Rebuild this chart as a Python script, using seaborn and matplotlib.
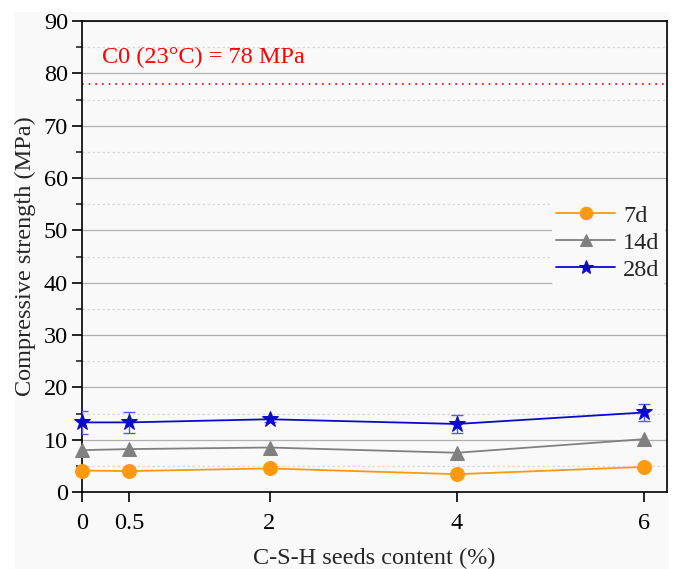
import matplotlib
matplotlib.use("Agg")
import matplotlib.pyplot as plt
from matplotlib.patches import Rectangle
from matplotlib.ticker import MultipleLocator
import seaborn as sns
import pandas as pd
import numpy as np

content = [0, 0.5, 2, 4, 6]
s7 = [4.1, 4.0, 4.5, 3.4, 4.8]
s14 = [8.0, 8.2, 8.5, 7.5, 10.1]
s28 = [13.3, 13.3, 13.9, 13.0, 15.2]
e28 = [2.2, 2.0, 0.5, 1.8, 1.6]
ref_value = 78
series_names = ["7d", "14d", "28d"]

sns.set_theme(style="white")
plt.rcParams["font.family"] = ["Liberation Serif", "DejaVu Serif"]

df = pd.DataFrame({
    "x": content * 3,
    "y": s7 + s14 + s28,
    "age": [series_names[0]] * 5 + [series_names[1]] * 5 + [series_names[2]] * 5,
})

FS = 17.5

fig = plt.figure(figsize=(6.76, 5.69), dpi=100)
fig.patch.set_facecolor("white")
fig.patches.append(Rectangle((15 / 676, 0), (669 - 15) / 676, 1 - 12 / 569,
                             transform=fig.transFigure, facecolor="#f9f9f9",
                             edgecolor="none", zorder=-10))
ax = fig.add_axes([82 / 676, 1 - 492 / 569, (667 - 82) / 676, (492 - 21) / 569])
ax.set_facecolor("#f9f9f9")

palette = {"7d": "#ff9910", "14d": "#808080", "28d": "#0a0ac8"}
markers = {"7d": "o", "14d": "^", "28d": "*"}
sizes = {"7d": 10, "14d": 10, "28d": 12}

ax.errorbar(content, s28, yerr=e28, fmt="none", ecolor="#5a5ae0", elinewidth=1,
            capsize=4, capthick=1, zorder=3)
for name in series_names:
    sub = df[df["age"] == name]
    sns.lineplot(data=sub, x="x", y="y", ax=ax, color=palette[name],
                 marker=markers[name], markersize=sizes[name],
                 markeredgecolor=palette[name], linewidth=1.3, label=name,
                 zorder=4, clip_on=False)

ax.axhline(ref_value, color="red", linestyle=(0, (1, 3)), linewidth=1.2, zorder=2)
ax.text(0.21, 83.0, "C0 (23°C) = 78 MPa", color="red", fontsize=FS, va="center")

ax.set_xlim(0, 6.24)
ax.set_ylim(0, 90)
ax.set_xticks(content)
ax.set_xticklabels(["0", "0.5", "2", "4", "6"])
ax.yaxis.set_major_locator(MultipleLocator(10))
ax.yaxis.set_minor_locator(MultipleLocator(5))
ax.grid(True, which="major", axis="y", color="#b0b0b0", linewidth=0.9, linestyle="-")
ax.grid(True, which="minor", axis="y", color="#d8d8d8", linewidth=0.9, linestyle=(0, (2, 2)))
ax.set_axisbelow(True)

for sp in ax.spines.values():
    sp.set_color("black")
    sp.set_linewidth(1.2)
    sp.set_visible(True)
ax.tick_params(axis="both", which="major", direction="out", length=7, width=1.2,
               labelsize=FS, color="black", labelcolor="black", left=True, bottom=True)
ax.tick_params(axis="y", which="minor", direction="out", length=4, width=1.2, left=True)
ax.tick_params(axis="x", which="major", pad=8)
ax.tick_params(axis="y", which="major", pad=3)

ax.set_xlabel("C-S-H seeds content (%)", fontsize=FS, labelpad=10)
ax.set_ylabel("Compressive strength (MPa)", fontsize=FS, labelpad=6)

leg = ax.legend(loc="upper right", bbox_to_anchor=(1.0, 0.625), frameon=True,
                fontsize=FS, handlelength=2.4, handletextpad=0.35,
                labelspacing=0.2, borderpad=0.2, borderaxespad=0.1, markerscale=0.9)
leg.get_frame().set_facecolor("#f9f9f9")
leg.get_frame().set_edgecolor("none")
leg.get_frame().set_alpha(1)

fig.savefig("out.png", dpi=100, facecolor=fig.get_facecolor())
